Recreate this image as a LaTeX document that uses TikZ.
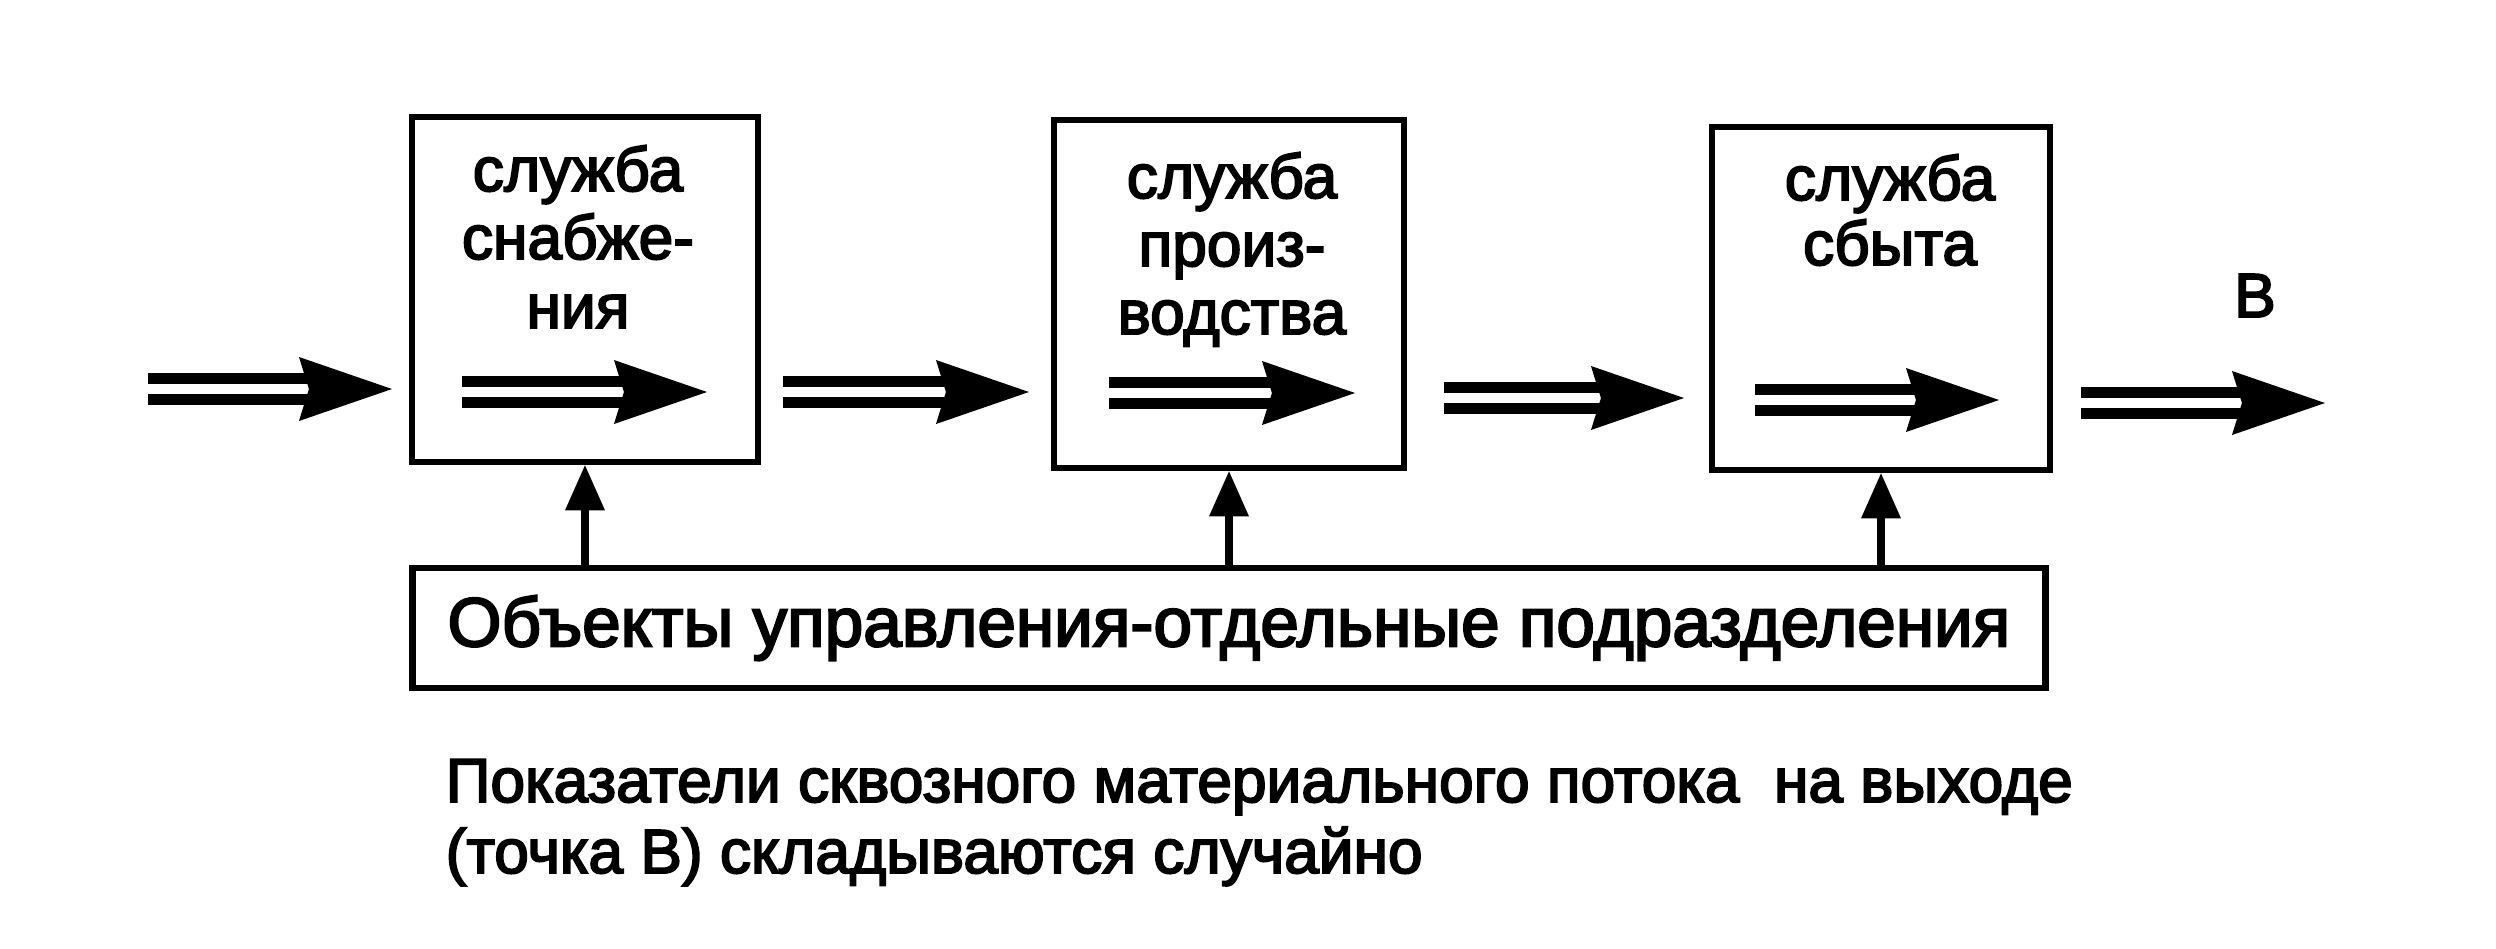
\documentclass[tikz,border=0pt]{standalone}
\usepackage{fontspec}
\setmainfont{Liberation Sans}
\newfontfamily\heavy{Liberation Sans}[FakeBold=3]
\usetikzlibrary{arrows.meta}
\begin{document}
\begin{tikzpicture}[x=0.01cm,y=-0.01cm,
  box/.style={draw, line width=1.85pt, inner sep=0pt},
  lbl/.style={anchor=base, inner sep=0pt, font=\heavy\fontsize{17.7}{19.6}\selectfont},
  captxt/.style={anchor=base west, inner sep=0pt, font=\heavy\fontsize{17.7}{21}\selectfont},
  flow/.style={line width=3.2pt, double, double distance=2.7pt,
    -{Stealth[length=0.93cm,width=0.64cm,inset=0.1cm,line width=0pt]}},
  ctrl/.style={line width=2.2pt, -{Triangle[length=0.45cm,width=0.40cm,line width=0pt]}}]
\fill[white] (0,0) rectangle (2496,948);
\useasboundingbox (0,0) rectangle (2496,948);

% boxes
\node[box, minimum width=3.46cm, minimum height=3.45cm] (b1) at (585,289.5) {};
\node[box, minimum width=3.50cm, minimum height=3.48cm] (b2) at (1229,294) {};
\node[box, minimum width=3.38cm, minimum height=3.43cm] (b3) at (1881,298.5) {};
\node[box, minimum width=16.32cm, minimum height=1.20cm,
  font=\heavy\fontsize{19.7}{21}\selectfont] (bot) at (1229,628)
  {Объекты управления-отдельные подразделения};

% box labels
\node[lbl] (t1a) at (578,191) {служба};
\node[lbl] (t1b) at (578,259) {снабже-};
\node[lbl] (t1c) at (578,328) {ния};
\node[lbl] (t2a) at (1232,198) {служба};
\node[lbl] (t2b) at (1232,266) {произ-};
\node[lbl] (t2c) at (1232,334) {водства};
\node[lbl] (t3a) at (1890,200) {служба};
\node[lbl] (t3b) at (1890,265) {сбыта};
\node[lbl] (pB) at (2255,317) {В};

% flow coordinates
\coordinate (in0) at (148,389);  \coordinate (in1) at (392,389);
\coordinate (i1a) at (462,392);  \coordinate (i1b) at (707,392);
\coordinate (f12a) at (783,392); \coordinate (f12b) at (1029,392);
\coordinate (i2a) at (1109,393); \coordinate (i2b) at (1355,393);
\coordinate (f23a) at (1444,398);\coordinate (f23b) at (1684,398);
\coordinate (i3a) at (1755,400); \coordinate (i3b) at (1999,400);
\coordinate (out0) at (2081,403);\coordinate (out1) at (2325,403);

\draw[flow] (in0) -- (in1);
\draw[flow] (i1a) -- (i1b);
\draw[flow] (f12a) -- (f12b);
\draw[flow] (i2a) -- (i2b);
\draw[flow] (f23a) -- (f23b);
\draw[flow] (i3a) -- (i3b);
\draw[flow] (out0) -- (out1);

% control arrows
\draw[ctrl] (bot.north -| b1.south) -- (b1.south);
\draw[ctrl] (bot.north -| b2.south) -- (b2.south);
\draw[ctrl] (bot.north -| b3.south) -- (b3.south);

% caption
\node[captxt] (c1) at (445,802) {Показатели сквозного материального потока~~на выходе};
\node[captxt] (c2) at (445,873) {(точка В) складываются случайно};
\end{tikzpicture}
\end{document}
